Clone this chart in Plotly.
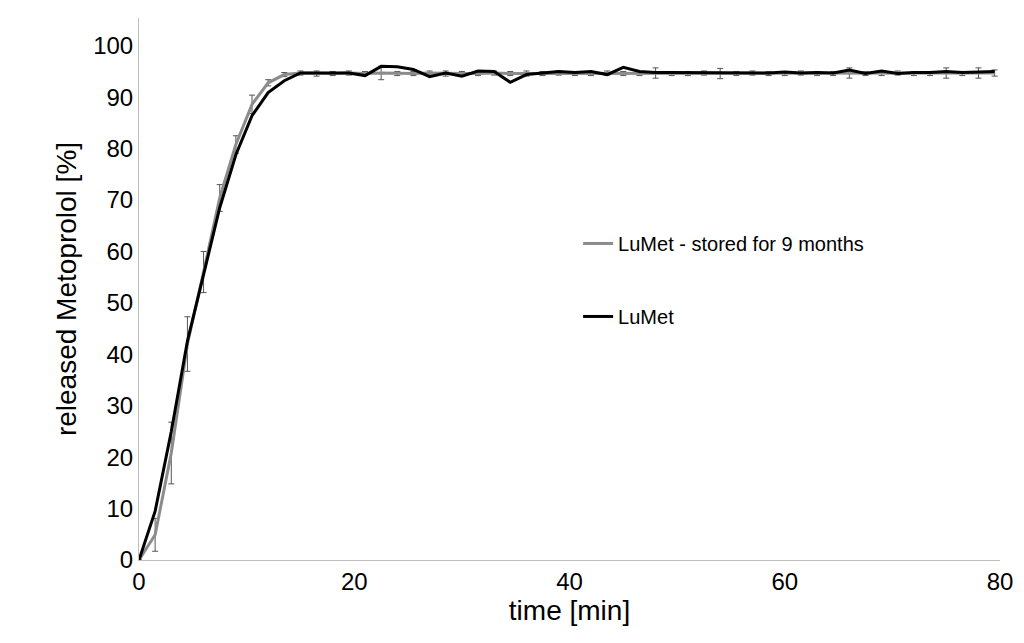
import plotly.graph_objects as go
import numpy as np

time = [i * 1.5 for i in range(54)]

# LuMet - stored for 9 months (grey, with error bars)
stored = [0, 4.9, 20.8, 42.0, 56.0, 70.4, 80.8, 88.6, 92.8, 94.4, 94.7,
          94.6, 94.6, 94.7, 94.6, 94.7, 94.6, 94.6, 94.7, 94.6, 94.6, 94.6,
          94.7, 94.6, 94.6, 94.6, 94.7, 94.6, 94.6, 94.7, 94.6, 94.6, 94.7,
          94.6, 94.6, 94.7, 94.6, 94.6, 94.7, 94.6, 94.6, 94.7, 94.6, 94.6,
          94.7, 94.6, 94.6, 94.7, 94.6, 94.6, 94.7, 94.6, 94.7, 94.7]
stored_err = [0, 3.2, 6.0, 5.3, 4.0, 2.6, 1.7, 1.8, 0.6, 0.4, 0.4,
              0.5, 0.4, 0.4, 0.4, 1.3, 0.4, 0.4, 0.4, 0.5, 0.4, 0.4,
              0.4, 0.4, 0.5, 0.4, 0.4, 0.4, 0.4, 0.4, 0.4, 0.4, 1.0,
              0.4, 0.4, 0.4, 1.0, 0.4, 0.4, 0.4, 0.4, 0.4, 0.4, 0.4,
              1.0, 0.4, 0.4, 0.4, 0.4, 0.4, 1.0, 0.4, 1.0, 0.6]

# LuMet (black)
lumet = [0, 9.5, 25.0, 42.6, 55.5, 68.5, 78.8, 86.4, 90.9, 93.2, 94.7,
         94.7, 94.7, 94.7, 94.2, 96.0, 95.9, 95.4, 94.0, 94.7, 94.1, 95.1,
         95.0, 92.9, 94.4, 94.7, 95.0, 94.8, 95.0, 94.4, 95.8, 95.0, 94.8,
         94.8, 94.8, 94.7, 94.7, 94.7, 94.8, 94.7, 94.9, 94.7, 94.8, 94.7,
         95.3, 94.6, 95.1, 94.6, 94.8, 94.8, 95.0, 94.8, 94.9, 95.0]

fig = go.Figure()
fig.add_trace(go.Scatter(
    x=time, y=stored, mode='lines', name='LuMet - stored for 9 months',
    line=dict(color='#8c8c8c', width=3), legendgroup='a',
    error_y=dict(type='data', array=stored_err, color='#555555',
                 thickness=1, width=3)))
fig.add_trace(go.Scatter(
    x=time, y=lumet, mode='lines', name='LuMet',
    line=dict(color='black', width=3), legendgroup='b'))

font = dict(family='Liberation Sans, Arial', size=23, color='black')
fig.update_layout(
    width=1024, height=643, plot_bgcolor='white', paper_bgcolor='white',
    margin=dict(l=131, r=32, t=10, b=91, autoexpand=False),
    font=font,
    legend=dict(x=0.51, y=0.62, xanchor='left', yanchor='top',
                font=dict(family='Liberation Sans, Arial', size=20),
                tracegroupgap=44, bgcolor='rgba(0,0,0,0)'),
    xaxis=dict(range=[0, 80], tickvals=[0, 20, 40, 60, 80], showgrid=False,
               zeroline=False, showline=True, linecolor='#bfbfbf',
               ticks='', automargin=False, tickfont=dict(size=24),
               title=dict(text='time [min]', standoff=4)),
    yaxis=dict(range=[0, 105.4], tickvals=list(range(0, 101, 10)),
               showgrid=False, zeroline=False, showline=True,
               linecolor='#bfbfbf', ticks='', automargin=False,
               tickfont=dict(size=24),
               title=dict(text='released Metoprolol [%]', standoff=8)),
)
fig.write_html("out.html")
